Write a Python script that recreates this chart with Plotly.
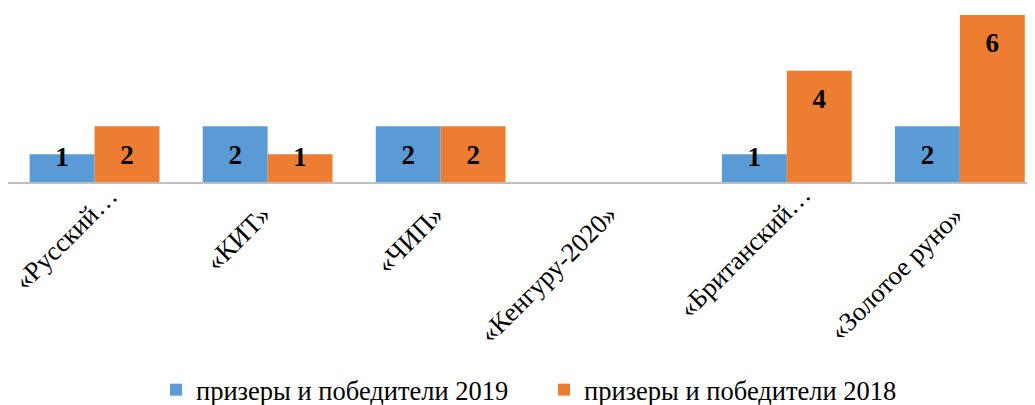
import plotly.graph_objects as go

categories = ["«Русский…", "«КИТ»", "«ЧИП»", "«Кенгуру-2020»", "«Британский…", "«Золотое руно»"]
series_2019 = [1, 2, 2, None, 1, 2]
series_2018 = [2, 1, 2, None, 4, 6]
names = ["призеры и победители 2019", "призеры и победители 2018"]
colors = ["#5B9BD5", "#ED7D31"]

# truncated (ellipsis) category labels sit a little further along their diagonal
label_slide = [28, 0, 0, 0, 28, 0]

FONT = "Liberation Serif, Times New Roman, serif"
idx = list(range(len(categories)))
bargap = 0.25
bw = (1 - bargap) / 2

fig = go.Figure()
for s, (vals, name, col) in enumerate(zip([series_2019, series_2018], names, colors)):
    fig.add_trace(go.Bar(
        x=idx, y=vals, name=name, marker=dict(color=col, line=dict(width=0)),
        offsetgroup=str(s), hoverinfo="skip",
    ))

# data labels: placed near the inner end of each bar
for s, vals in enumerate([series_2019, series_2018]):
    off = (-0.5 + s) * bw
    xs, ys, ts = [], [], []
    for i, v in zip(idx, vals):
        if v is None:
            continue
        xs.append(i + off)
        ys.append(max(v - 1.1, 0.82))
        ts.append(str(v))
    fig.add_trace(go.Scatter(
        x=xs, y=ys, text=ts, mode="text", showlegend=False, hoverinfo="skip",
        textfont=dict(family=FONT, size=27, color="black", weight="bold"),
        textposition="middle center",
    ))

# category labels (rotated), anchored at their category on the axis
for i, (cat, sl) in enumerate(zip(categories, label_slide)):
    fig.add_annotation(
        x=i, y=0, xref="x", yref="y", text=cat, showarrow=False,
        textangle=-45, xanchor="right", yanchor="top",
        xshift=12 + sl * 0.7071, yshift=-15 + sl * 0.7071,
        font=dict(family=FONT, size=26.5, color="black"),
    )

fig.update_layout(
    width=1035, height=405,
    margin=dict(l=0, r=8, t=7, b=231, autoexpand=False),
    paper_bgcolor="white", plot_bgcolor="white",
    barmode="group", bargap=bargap, bargroupgap=0,
    font=dict(family=FONT, size=27, color="black"),
    showlegend=True,
    legend=dict(orientation="h", x=0.1441, xanchor="left", y=-1.245, yanchor="middle",
                font=dict(family=FONT, size=26.5, color="black"),
                entrywidth=343, entrywidthmode="pixels", itemwidth=30,
                bgcolor="rgba(0,0,0,0)"),
)
fig.update_xaxes(
    range=[-0.5, 5.434], tickmode="array", tickvals=idx, ticktext=[""] * len(idx),
    showgrid=False, zeroline=False, showline=True,
    linecolor="#BFBFBF", linewidth=1.5, ticks="", automargin=False,
)
fig.update_yaxes(range=[0, 6], visible=False, showgrid=False, zeroline=False, automargin=False)

fig.write_html("out.html")
